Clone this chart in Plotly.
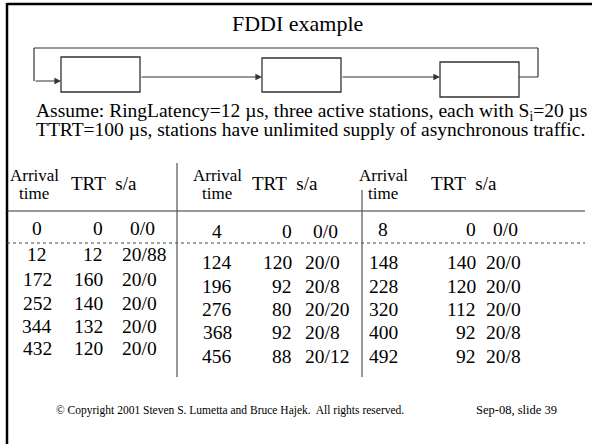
import plotly.graph_objects as go

# ---- data ----
title = "FDDI example"
assume_lines = [
    "Assume: RingLatency=12 µs, three active stations, each with S<sub>i</sub>=20 µs",
    "TTRT=100 µs, stations have unlimited supply of asynchronous traffic.",
]
arrival = [
    [0, 12, 172, 252, 344, 432],
    [4, 124, 196, 276, 368, 456],
    [8, 148, 228, 320, 400, 492],
]
trt = [
    [0, 12, 160, 140, 132, 120],
    [0, 120, 92, 80, 92, 88],
    [0, 140, 120, 112, 92, 92],
]
sa = [
    ["0/0", "20/88", "20/0", "20/0", "20/0", "20/0"],
    ["0/0", "20/0", "20/8", "20/20", "20/8", "20/12"],
    ["0/0", "20/0", "20/0", "20/0", "20/8", "20/8"],
]
footer_left = "© Copyright 2001 Steven S. Lumetta and Bruce Hajek.  All rights reserved."
footer_right = "Sep-08, slide 39"

# ---- layout constants ----
W, H = 592, 444
FONT = "Liberation Serif, Times New Roman, serif"
BLACK = "#000000"

fig = go.Figure()
shapes = []
ann = []

def line(x0, y0, x1, y1, w=1.3, color=BLACK, dash=None):
    d = dict(type="line", x0=x0, y0=y0, x1=x1, y1=y1, xref="x", yref="y",
             line=dict(color=color, width=w))
    if dash:
        d["line"]["dash"] = dash
    shapes.append(d)

def rect(x0, y0, x1, y1):
    shapes.append(dict(type="rect", x0=x0, y0=y0, x1=x1, y1=y1, xref="x", yref="y",
                       line=dict(color="#333333", width=1.3), fillcolor="white"))

def text(x, y, s, size, anchor="center"):
    ann.append(dict(x=x, y=y, xref="x", yref="y", text=s, showarrow=False,
                    xanchor=anchor, yanchor="middle",
                    font=dict(family=FONT, size=size, color=BLACK)))

def arrow(x0, x1, y):
    ann.append(dict(x=x1, y=y, ax=x0, ay=y, xref="x", yref="y", axref="x", ayref="y",
                    text="", showarrow=True, arrowhead=2, arrowsize=1.1, arrowwidth=1.2,
                    arrowcolor="#333333", standoff=0))

# slide border (top + left)
line(7, 4, W + 5, 4, w=2.5)
line(7, 3, 7, H + 5, w=2.5)

# title
text(297, 23, title, 22)

# ring diagram
boxes = [(61, 57, 140, 92), (262, 58, 341, 92), (440, 62, 519, 97)]
loop_l, loop_r, loop_top = 34, 538, 48
line(loop_l, loop_top, loop_r, loop_top, w=1.2, color="#333333")
line(loop_l, loop_top, loop_l, 81, w=1.2, color="#333333")
arrow(loop_l, boxes[0][0], 81)
arrow(boxes[0][2], boxes[1][0], 77)
arrow(boxes[1][2], boxes[2][0], 77)
line(boxes[2][2], 77, loop_r, 77, w=1.2, color="#555555")
line(loop_r, 77, loop_r, loop_top, w=1.2, color="#333333")
for b in boxes:
    rect(*b)

# assumption text
text(34, 112, assume_lines[0], 19.5, anchor="left")
text(34, 129, assume_lines[1], 19.5, anchor="left")

# table
col_arr_x = [37, 217, 383]
col_hdr_arr_x = [34, 217, 383]
col_trt_x = [105, 294, 478]
col_sa_x = [120, 303, 484]
col_sa_r = [157, 340, 520]
col_hdr_trt_x = [104, 285, 464]
row_y = [
    [228, 254, 279, 303, 326, 348],
    [231, 262, 286, 309, 332, 356],
    [229, 262, 286, 309, 332, 356],
]
NUM = 19.5
for c in range(3):
    text(col_hdr_arr_x[c], 175, "Arrival", 17)
    text(col_hdr_arr_x[c], 193, "time", 17)
    text(col_hdr_trt_x[c], 183, "TRT&nbsp;&nbsp;s/a", 19)
    for r in range(len(arrival[c])):
        y = row_y[c][r]
        text(col_arr_x[c], y, str(arrival[c][r]), NUM)
        text(col_trt_x[c], y, str(trt[c][r]), NUM, anchor="right")
        if r == 0:
            text(col_sa_r[c], y, sa[c][r], NUM, anchor="right")
        else:
            text(col_sa_x[c], y, sa[c][r], NUM, anchor="left")

line(7, 211, 585, 211, w=1.2, color="#333333")
line(7, 243, 585, 243, w=1, color="#444444", dash="dot")
line(177, 163, 177, 377, w=1.2, color="#555555")
line(362, 190, 362, 377, w=1.2, color="#555555")

# footer
text(230, 410, footer_left, 11.5)
text(516, 410, footer_right, 12.5)

fig.update_layout(
    width=W, height=H,
    margin=dict(l=0, r=0, t=0, b=0),
    paper_bgcolor="white", plot_bgcolor="white",
    xaxis=dict(range=[0, W], visible=False, fixedrange=True),
    yaxis=dict(range=[H, 0], visible=False, fixedrange=True),
    shapes=shapes, annotations=ann, showlegend=False,
)
fig.write_html(
    "out.html",
    config={"displayModeBar": False},
    post_script="document.body.style.margin='0';document.body.style.overflow='hidden';",
)
